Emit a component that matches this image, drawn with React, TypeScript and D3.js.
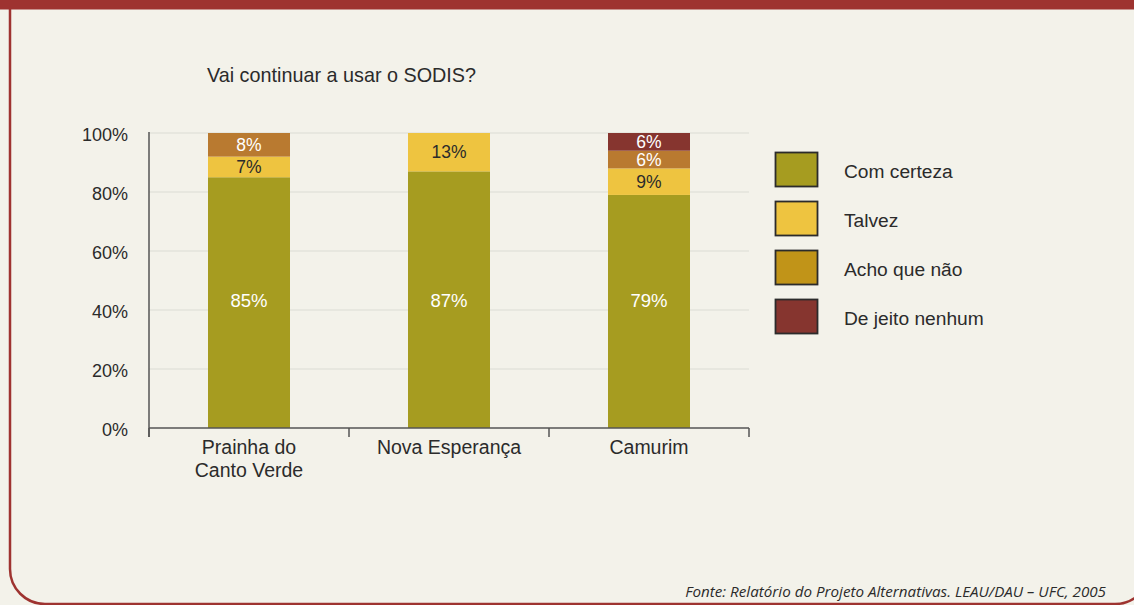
import React from "react";
import * as d3 from "d3";

const categories = ["Prainha do\nCanto Verde", "Nova Esperança", "Camurim"];
const seriesNames = ["Com certeza", "Talvez", "Acho que não", "De jeito nenhum"];
const comCerteza = [85, 87, 79];
const talvez = [7, 13, 9];
const achoQueNao = [8, 0, 6];
const deJeitoNenhum = [0, 0, 6];
const yTicks = [0, 20, 40, 60, 80, 100];
const chartTitle = "Vai continuar a usar o SODIS?";
const source = "Fonte: Relatório do Projeto Alternativas. LEAU/DAU – UFC, 2005";

const barColors = ["#a69c20", "#eec440", "#b97a30", "#86352f"];
const legendColors = ["#a69c20", "#eec440", "#c19418", "#86352f"];
const labelColors = ["#ffffff", "#2b2b2b", "#ffffff", "#ffffff"];

const W = 1134;
const H = 605;
const FONT = "'Liberation Sans', Arial, sans-serif";

export default function App() {
  const x = d3.scaleBand<string>().domain(categories).range([149, 749]).padding(0);
  const y = d3.scaleLinear().domain([0, 100]).range([428, 133]);
  const barW = x.bandwidth() * 0.41;

  const rows = categories.map((c, i) => ({
    cat: c,
    v0: comCerteza[i],
    v1: talvez[i],
    v2: achoQueNao[i],
    v3: deJeitoNenhum[i],
  }));
  const stack = d3.stack<any>().keys(["v0", "v1", "v2", "v3"]);
  const layers = stack(rows);
  // bottom-series labels share one common height in the reference
  const baseLabelY = y(43.4);

  return (
    <svg
      width={W}
      height={H}
      style={{ position: "fixed", left: 0, top: 0, display: "block" }}
    >
      <rect x={0} y={0} width={W} height={H} fill="#f3f2ea" />
      <rect x={0} y={0} width={W} height={9.5} fill="#9e3330" />
      <path
        d={`M10,9 V569 A35,35 0 0 0 45,604 H1115 A35,35 0 0 0 1150,569 V9`}
        fill="none"
        stroke="#9e3330"
        strokeWidth={2.5}
      />

      <text x={207} y={82} fontFamily={FONT} fontSize={19.8} fill="#2b2b2b">
        {chartTitle}
      </text>

      {yTicks.filter((t) => t > 0).map((t) => (
        <line key={"g" + t} x1={149} x2={749} y1={y(t)} y2={y(t)} stroke="#dcdbd3" strokeWidth={1.2} />
      ))}

      {layers.map((layer, li) =>
        layer.map((d, i) => {
          const v = d[1] - d[0];
          if (v <= 0) return null;
          const bx = (x(categories[i]) as number) + (x.bandwidth() - barW) / 2;
          const ly = li === 0 ? baseLabelY : (y(d[0]) + y(d[1])) / 2;
          return (
            <g key={li + "-" + i}>
              <rect x={bx} y={y(d[1])} width={barW} height={y(d[0]) - y(d[1])} fill={barColors[li]} />
              <text
                x={bx + barW / 2}
                y={ly}
                dy="0.36em"
                textAnchor="middle"
                fontFamily={FONT}
                fontSize={li === 0 ? 18.5 : 17.5}
                fill={labelColors[li]}
              >
                {v + "%"}
              </text>
            </g>
          );
        })
      )}

      <line x1={149} x2={149} y1={132} y2={437} stroke="#555" strokeWidth={1.5} />
      <line x1={149} x2={749} y1={428} y2={428} stroke="#555" strokeWidth={1.5} />
      {[...categories.map((c) => x(c) as number), 749].map((tx, i) => (
        <line key={"t" + i} x1={tx} x2={tx} y1={428} y2={437} stroke="#555" strokeWidth={1.5} />
      ))}

      {yTicks.map((t) => (
        <text key={"y" + t} x={128} y={y(t) + 2} dy="0.36em" textAnchor="end" fontFamily={FONT} fontSize={18} fill="#2b2b2b">
          {t + "%"}
        </text>
      ))}

      {categories.map((c) => (
        <text key={c} textAnchor="middle" fontFamily={FONT} fontSize={19.5} fill="#2b2b2b">
          {c.split("\n").map((line, li) => (
            <tspan key={li} x={(x(c) as number) + x.bandwidth() / 2} y={454 + li * 23}>
              {line}
            </tspan>
          ))}
        </text>
      ))}

      {seriesNames.map((s, i) => (
        <g key={s}>
          <rect x={775.5} y={152.5 + i * 49} width={42} height={34} fill={legendColors[i]} stroke="#2b2b2b" strokeWidth={1.8} />
          <text x={844} y={171 + i * 49} dy="0.36em" fontFamily={FONT} fontSize={19.2} fill="#2b2b2b">
            {s}
          </text>
        </g>
      ))}

      <text x={1106} y={597} textAnchor="end" fontFamily="'Open Sans', 'Noto Sans', sans-serif" fontStyle="italic" fontSize={15.2} fill="#2b2b2b">
        {source}
      </text>
    </svg>
  );
}
